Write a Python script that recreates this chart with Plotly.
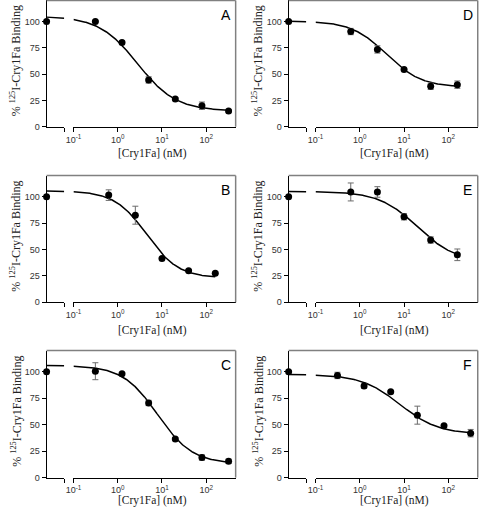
import numpy as np
import plotly.graph_objects as go

# ---------------- data ----------------
conc_a = [0.3125, 1.25, 5, 20, 80, 320]      # panels A, C, F (nM)
conc_b = [0.625, 2.5, 10, 40, 160]           # panels B, D, E (nM)
control_value = 100

panel_names = ["A", "D", "B", "E", "C", "F"]

A_y = [100, 80, 44.5, 26.5, 20, 15]
A_err = [1, 1.5, 3, 1, 3.5, 1]
B_y = [101.5, 82.5, 41.5, 30, 27.5]
B_err = [5, 8.5, 1, 1, 1]
C_y = [100.5, 98, 70.5, 36.5, 19, 15.5]
C_err = [8, 1, 2.5, 1, 2.5, 2]
D_y = [90.5, 73.5, 54.5, 38.5, 40]
D_err = [3, 3.5, 1, 3, 3.5]
E_y = [104.5, 104.5, 81, 59, 45]
E_err = [8.5, 5, 3, 3, 5.5]
F_y = [96.5, 86.5, 81, 59, 49, 42]
F_err = [3, 2, 1, 8.5, 1, 3.5]

# fitted one-site competition curve parameters: top, bottom, logIC50, hill
A_fit = [105, 15, 0.447, 1.0]
B_fit = [105.5, 23, 0.653, 1.2]
C_fit = [106, 13, 0.903, 1.1]
D_fit = [100.5, 37.5, 0.602, 1.1]
E_fit = [105, 38, 1.301, 1.0]
F_fit = [97.5, 41, 0.903, 1.0]

y_ticks = [0, 25, 50, 75, 100]
x_ticks = [0.1, 1, 10, 100]
x_ticktext = ["10<sup>-1</sup>", "10<sup>0</sup>", "10<sup>1</sup>", "10<sup>2</sup>"]

panels = {
    "A": (conc_a, A_y, A_err, A_fit),
    "B": (conc_b, B_y, B_err, B_fit),
    "C": (conc_a, C_y, C_err, C_fit),
    "D": (conc_b, D_y, D_err, D_fit),
    "E": (conc_b, E_y, E_err, E_fit),
    "F": (conc_a, F_y, F_err, F_fit),
}

# ---------------- layout geometry (pixels) ----------------
W, H = 480, 516
cols = [dict(left=39.3, brk=57.3, seg=66.7, right=232.0),
        dict(left=286.0, brk=304.0, seg=313.4, right=478.7)]
rows = [(0.5, 128.0, 27), (177.3, 305.3, 28), (354.0, 482.3, 23)]

LEFT_RANGE = [-1.6, -1.2]
MAIN_RANGE = [-1.0004, 2.665]

SANS = "Liberation Sans, Arial, sans-serif"
SERIF = "Liberation Serif, Times New Roman, serif"


def fx(p):
    return p / W


def fy(p):
    return 1 - p / H


def fit_curve(x, p):
    top, bottom, logic50, hill = p
    return bottom + (top - bottom) / (1 + 10 ** ((np.log10(x) - logic50) * hill))


fig = go.Figure()
layout = dict(width=W, height=H, margin=dict(l=0, r=0, t=0, b=0),
              paper_bgcolor="white", plot_bgcolor="white", showlegend=False)
annotations = []
shapes = []

for i, name in enumerate(panel_names):
    r, c = divmod(i, 2)
    col = cols[c]
    top_px, bot_px, title_off = rows[r]
    conc, yv, err, fit = panels[name]
    nl, nm, ny = 2 * i + 1, 2 * i + 2, i + 1
    xl = "x" if nl == 1 else f"x{nl}"
    xm = f"x{nm}"
    yk = "y" if ny == 1 else f"y{ny}"
    xl_key = "xaxis" if nl == 1 else f"xaxis{nl}"
    xm_key = f"xaxis{nm}"
    y_key = "yaxis" if ny == 1 else f"yaxis{ny}"

    common_x = dict(type="log", showline=True, linecolor="black", linewidth=1,
                    ticks="outside", ticklen=4, tickwidth=1, tickcolor="black",
                    showgrid=False, zeroline=False, anchor=yk,
                    tickfont=dict(family=SANS, size=9, color="#333"))
    layout[xl_key] = dict(common_x, range=LEFT_RANGE,
                          domain=[fx(col["left"]), fx(col["brk"])],
                          tickvals=[10 ** -1.2006], ticktext=[" "])
    layout[xm_key] = dict(common_x, range=MAIN_RANGE,
                          domain=[fx(col["seg"]), fx(col["right"])],
                          tickvals=x_ticks, ticktext=x_ticktext)
    layout[y_key] = dict(range=[0, 120], domain=[fy(bot_px), fy(top_px)],
                         anchor=xl, showline=True, linecolor="black", linewidth=1,
                         ticks="outside", ticklen=4, tickwidth=1, tickcolor="black",
                         tickvals=y_ticks, showgrid=False, zeroline=False,
                         tickfont=dict(family=SANS, size=9, color="#333"))

    # fitted curve, left segment and main segment
    xs_left = np.logspace(LEFT_RANGE[0], LEFT_RANGE[1], 30)
    fig.add_trace(go.Scatter(x=xs_left, y=fit_curve(xs_left, fit), mode="lines",
                             line=dict(color="black", width=1.5),
                             xaxis=xl, yaxis=yk, hoverinfo="skip"))
    xs_main = np.logspace(-1, np.log10(conc[-1]), 250)
    fig.add_trace(go.Scatter(x=xs_main, y=fit_curve(xs_main, fit), mode="lines",
                             line=dict(color="black", width=1.5),
                             xaxis=xm, yaxis=yk, hoverinfo="skip"))
    # control (no competitor) point
    fig.add_trace(go.Scatter(x=[10 ** LEFT_RANGE[0]], y=[control_value], mode="markers",
                             marker=dict(color="black", size=7),
                             cliponaxis=False, xaxis=xl, yaxis=yk))
    # data points
    fig.add_trace(go.Scatter(x=conc, y=yv, mode="markers",
                             marker=dict(color="black", size=7),
                             error_y=dict(type="data", array=err, visible=True,
                                          color="#6b6b6b", thickness=1, width=3),
                             cliponaxis=False, xaxis=xm, yaxis=yk))

    # gray frame on top and right
    shapes.append(dict(type="line", xref="paper", yref="paper",
                       x0=fx(col["left"]), x1=fx(col["right"]),
                       y0=fy(top_px), y1=fy(top_px),
                       line=dict(color="#808080", width=1.5)))
    shapes.append(dict(type="line", xref="paper", yref="paper",
                       x0=fx(col["right"]), x1=fx(col["right"]),
                       y0=fy(top_px), y1=fy(bot_px),
                       line=dict(color="#808080", width=1.5)))

    # panel letter
    annotations.append(dict(text=name, xref="paper", yref="paper",
                            x=fx(col["right"] - 10), y=fy(top_px + 15),
                            xanchor="center", yanchor="middle", showarrow=False,
                            font=dict(family=SANS, size=14, color="black")))
    # x title
    annotations.append(dict(text="[Cry1Fa] (nM)", xref="paper", yref="paper",
                            x=fx((col["seg"] + col["right"]) / 2 - 2), y=fy(bot_px + title_off),
                            xanchor="center", yanchor="middle", showarrow=False,
                            font=dict(family=SERIF, size=11.5, color="#222")))
    # y title
    annotations.append(dict(text="% <sup>125</sup>I-Cry1Fa Binding", xref="paper", yref="paper",
                            x=fx(col["left"] - 31.5), y=fy((top_px + bot_px) / 2 - 3),
                            xanchor="center", yanchor="middle", showarrow=False,
                            textangle=-90,
                            font=dict(family=SERIF, size=12, color="#222")))

layout["annotations"] = annotations
layout["shapes"] = shapes
fig.update_layout(**layout)
fig.write_html("out.html",
               config={"displayModeBar": False},
               post_script="document.body.style.margin='0';document.body.style.overflow='hidden';")
